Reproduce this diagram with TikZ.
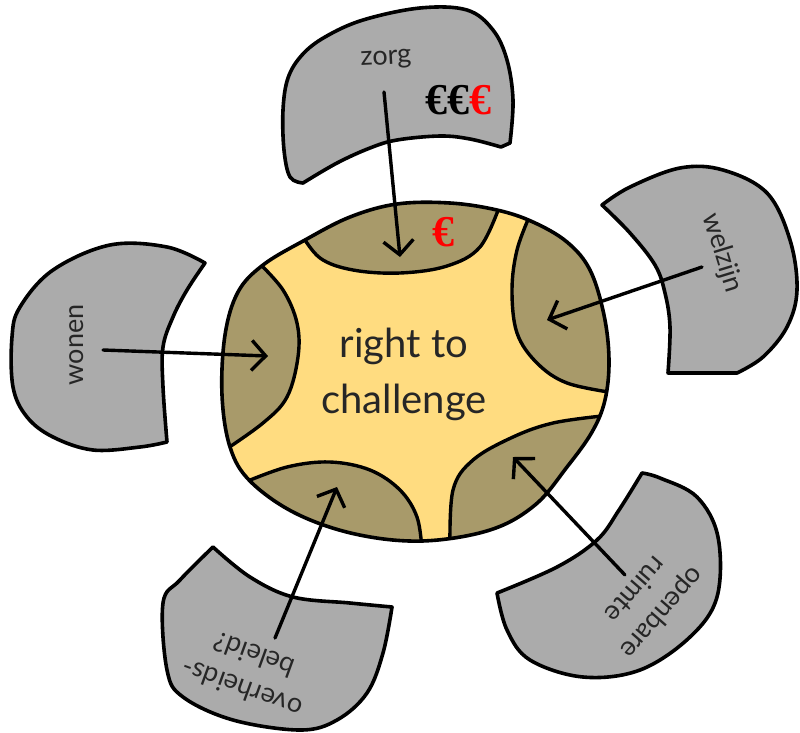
\documentclass[tikz,border=0pt]{standalone}
\usepackage{fontspec}
\setmainfont{Lato}
\newfontfamily\eurofont{Liberation Serif}
\usetikzlibrary{arrows.meta}
\definecolor{petalgrey}{HTML}{ABABAB}
\definecolor{segolive}{HTML}{A89A6A}
\definecolor{coreyellow}{HTML}{FFDC80}
\definecolor{inkgrey}{HTML}{262626}
\definecolor{eurored}{HTML}{FF0000}
\begin{document}
\begin{tikzpicture}[x=1pt,y=-1pt,
  petal/.style={draw=black, fill=petalgrey, line width=3.6pt, line join=round},
  segline/.style={draw=black, line width=3.4pt, line cap=round},
  lbl/.style={text=inkgrey, align=center, inner sep=0pt, font=\fontsize{27}{36}\selectfont},
  link/.style={line width=3.4pt, line cap=round, -{Straight Barb[length=14pt,width=30pt]}},
  euro/.style={inner sep=0pt, font=\eurofont\bfseries\fontsize{44}{44}\selectfont}]
\useasboundingbox (0,0) rectangle (800,732);
\def\blobpath{plot[smooth cycle, tension=0.6] coordinates {(238,292) (263,265) (305,240) (350,217) (397,204) (450,203) (497,210) (533,222) (567,242) (590,270) (604,315) (609,360) (605,400) (592,432) (567,467) (535,505) (490,530) (422,541) (355,534) (295,513) (250,481) (230,447) (222,395) (225,335)}}

% petals
\draw[petal] plot[smooth, tension=0.6] coordinates {(303,183) (290,177) (284,150) (283,110) (288,78) (302,55) (325,37) (363,20) (420,8) (467,10) (493,30) (507,60) (513,100) (510,143)}
  -- plot[smooth, tension=0.6] coordinates {(501,147) (470,139) (440,136) (397,140) (370,148) (337,163) (303,183)} -- cycle;
\draw[petal] plot[smooth, tension=0.6] coordinates {(602,205) (630,187) (680,168) (723,170) (767,193) (790,240) (797,290) (787,327) (763,357) (737,373)}
  -- plot[smooth, tension=0.6] coordinates {(668,373) (670,327) (665,293) (655,265) (630,233) (602,205)} -- cycle;
\draw[petal] plot[smooth, tension=0.6] coordinates {(205,263) (167,247) (110,245) (53,270) (20,307) (12,337) (13,387) (27,417) (53,437) (93,450) (140,447) (167,442)}
  -- plot[smooth, tension=0.6] coordinates {(167,442) (163,387) (163,347) (173,317) (187,290) (205,263)} -- cycle;
\draw[petal] plot[smooth, tension=0.6] coordinates {(642,473) (660,478) (697,497) (718,537) (717,597) (690,637) (640,670) (583,677) (530,660) (507,630) (497,593)}
  -- plot[smooth, tension=0.6] coordinates {(497,593) (557,567) (597,540) (619,510) (642,473)} -- cycle;
\draw[petal] plot[smooth, tension=0.6] coordinates {(392,607) (383,653) (367,693) (337,720) (300,730) (233,720) (183,697) (167,670) (163,603) (180,580) (213,547)}
  -- plot[smooth, tension=0.6] coordinates {(213,547) (250,577) (293,597) (350,603) (392,607)} -- cycle;

% central blob
\fill[coreyellow] \blobpath;
\begin{scope}
  \clip \blobpath;
  \fill[segolive] plot[smooth, tension=0.6] coordinates {(300,232) (320,258) (353,270) (400,273) (447,266) (480,247) (500,205)} -- (500,150) -- (300,150) -- cycle;
  \fill[segolive] plot[smooth, tension=0.6] coordinates {(530,215) (517,250) (512,290) (517,333) (537,363) (567,383) (615,393)} -- (650,393) -- (650,200) -- cycle;
  \fill[segolive] plot[smooth, tension=0.6] coordinates {(602,416) (553,423) (513,437) (473,460) (453,490) (450,548)} -- (650,548) -- (650,416) -- cycle;
  \fill[segolive] plot[smooth, tension=0.6] coordinates {(243,483) (287,467) (330,462) (370,470) (400,490) (417,517) (422,550)} -- (200,550) -- (200,483) -- cycle;
  \fill[segolive] plot[smooth, tension=0.6] coordinates {(258,262) (283,290) (297,323) (298,357) (287,397) (263,423) (222,452)} -- (180,452) -- (180,262) -- cycle;
  \draw[segline] plot[smooth, tension=0.6] coordinates {(300,232) (320,258) (353,270) (400,273) (447,266) (480,247) (500,205)};
  \draw[segline] plot[smooth, tension=0.6] coordinates {(530,215) (517,250) (512,290) (517,333) (537,363) (567,383) (615,393)};
  \draw[segline] plot[smooth, tension=0.6] coordinates {(602,416) (553,423) (513,437) (473,460) (453,490) (450,548)};
  \draw[segline] plot[smooth, tension=0.6] coordinates {(243,483) (287,467) (330,462) (370,470) (400,490) (417,517) (422,550)};
  \draw[segline] plot[smooth, tension=0.6] coordinates {(258,262) (283,290) (297,323) (298,357) (287,397) (263,423) (222,452)};
\end{scope}
\draw[line width=3.6pt, line join=round] \blobpath;

% texts
\node[text=inkgrey, align=center, font=\fontsize{40}{56}\selectfont] (core) at (404,374) {right to\\challenge};
\node[lbl, rotate=3] (zorg) at (386,60) {zorg};
\node[euro] (euros) at (458,100) {€€\textcolor{eurored}{€}};
\node[euro, text=eurored] (eurocore) at (443,232) {€};
\node[lbl, rotate=-73] (welzijn) at (722,253) {welzijn};
\node[lbl, rotate=90] (wonen) at (77,345) {wonen};
\node[lbl, rotate=229] (openbare) at (650,602) {openbare\\ruimte};
\node[lbl, rotate=160] (overheid) at (248,672) {overheids-\\beleid?};

% arrow ends
\coordinate (zorgS) at (384,92);   \coordinate (zorgT) at (400,257);
\coordinate (welS) at (702,267);   \coordinate (welT) at (547,320);
\coordinate (wonS) at (103,350);   \coordinate (wonT) at (268,356);
\coordinate (opS) at (625,575);    \coordinate (opT) at (513,457);
\coordinate (ovS) at (275,638);    \coordinate (ovT) at (337,487);
\draw[link] (zorgS) -- (zorgT);
\draw[link] (welS) -- (welT);
\draw[link] (wonS) -- (wonT);
\draw[link] (opS) -- (opT);
\draw[link] (ovS) -- (ovT);
\end{tikzpicture}
\end{document}
